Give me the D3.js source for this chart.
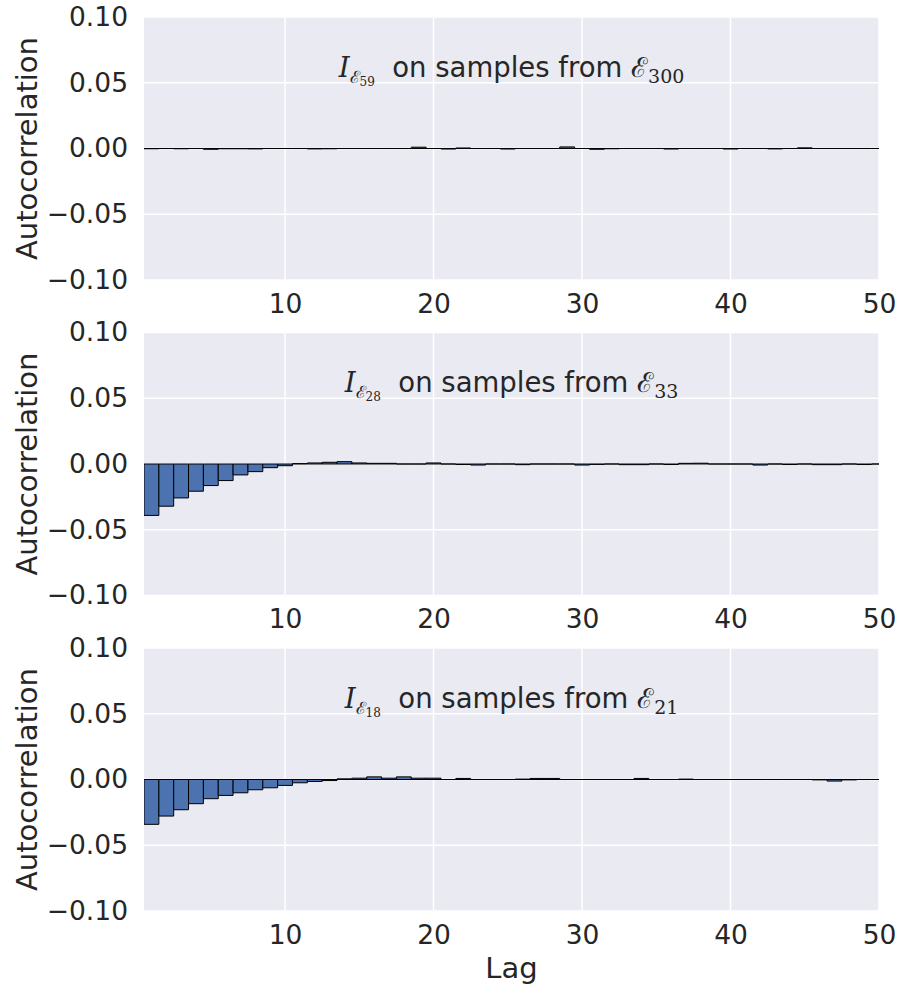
<!DOCTYPE html>
<html><head><meta charset="utf-8">
<script src="https://cdn.jsdelivr.net/npm/d3@7"></script>
<style>body{margin:0;background:#fff;} text{font-family:"DejaVu Sans",sans-serif;fill:#262626;}</style>
</head><body>
<svg id="c" width="901" height="990"></svg>
<script>
const lags = d3.range(1, 51);
const yTicks = [-0.10, -0.05, 0.00, 0.05, 0.10];
const xTicks = [10, 20, 30, 40, 50];
const titles = [
  {sub: "59", right: "300"},
  {sub: "28", right: "33"},
  {sub: "18", right: "21"}
];
// autocorrelation for lags 1..50, panel 1: I_E59 on samples from E300
const acf1 = [-0.0002,0,-0.0002,0,-0.0006,-0.0002,-0.0002,-0.0003,0,0,
  0,-0.0003,-0.0002,0,0,0,0,0,0.0010,0,
  -0.0004,0.0004,0,0,-0.0004,0,0,0,0.0012,0,
  -0.0006,-0.0002,0,0,0,-0.0004,0,0,0,-0.0004,
  0,0,-0.0003,0,0.0005,0,0,0,0,0];
// panel 2: I_E28 on samples from E33
const acf2 = [-0.0391,-0.0321,-0.0258,-0.0207,-0.0164,-0.0126,-0.0083,-0.0058,-0.0028,-0.0013,
  0.0003,0.0008,0.0013,0.0018,0.0008,0.0005,0.0005,0,0,0.0008,
  0,-0.0004,-0.0008,0,0,-0.0005,0,0,0,-0.0008,
  -0.0003,0,-0.0005,-0.0005,0,-0.0004,0.0005,0.0006,0,0,
  0,-0.0008,0,-0.0004,0,-0.0005,-0.0005,0,-0.0004,0];
// panel 3: I_E18 on samples from E21
const acf3 = [-0.0341,-0.0278,-0.0230,-0.0184,-0.0146,-0.0121,-0.0101,-0.0078,-0.0063,-0.0045,
  -0.0025,-0.0015,-0.0008,0.0005,0.0010,0.0020,0.0010,0.0020,0.0010,0.0010,
  0,0.0008,0,0,0,0.0003,0.0008,0.0008,0,0,
  0,0,0,0.0008,0,0,0.0003,0,0,0,
  0,0,0,0,0,-0.0003,-0.0012,-0.0003,0,0];
const series = [acf1, acf2, acf3];

const svg = d3.select("#c");
const left = 144, right = 879, h = 263;
const tops = [17, 332.5, 648];
const x = d3.scaleLinear().domain([0.5, 50]).range([left, right]);
const fmt = d3.format(".2f");
const tickFont = 26.5, labelFont = 29, titleFont = 27.5;

series.forEach((vals, i) => {
  const top = tops[i];
  const y = d3.scaleLinear().domain([-0.1, 0.1]).range([top + h, top]);
  const g = svg.append("g");
  g.append("rect").attr("x", left).attr("y", top).attr("width", right - left).attr("height", h).attr("fill", "#EAEAF2");
  // grid
  g.selectAll(".gy").data(yTicks).join("line")
    .attr("x1", left).attr("x2", right).attr("y1", d => y(d)).attr("y2", d => y(d))
    .attr("stroke", "#fff").attr("stroke-width", 1.5);
  g.selectAll(".gx").data(xTicks).join("line")
    .attr("y1", top).attr("y2", top + h).attr("x1", d => x(d)).attr("x2", d => x(d))
    .attr("stroke", "#fff").attr("stroke-width", 1.5);
  // clip
  const cid = "clip" + i;
  svg.append("clipPath").attr("id", cid).append("rect")
    .attr("x", left).attr("y", top).attr("width", right - left).attr("height", h);
  const bars = g.append("g").attr("clip-path", `url(#${cid})`);
  bars.selectAll("path").data(lags).join("path")
    .attr("d", (d, j) => {
      const x0 = x(d - 0.5), x1 = x(d + 0.5), y0 = y(0), y1 = y(vals[j]);
      return `M${x0},${y0}H${x1}V${y1}H${x0}Z`;
    })
    .attr("fill", "#4C72B0").attr("stroke", "#000").attr("stroke-width", 1);
  // y axis
  const ya = d3.axisLeft(y).tickValues(yTicks).tickFormat(fmt).tickSize(0).tickPadding(16);
  const yg = g.append("g").attr("transform", `translate(${left},0)`).call(ya);
  yg.select(".domain").remove();
  yg.selectAll("text").attr("font-size", tickFont).style("fill", "#262626");
  // x axis
  const xa = d3.axisBottom(x).tickValues(xTicks).tickFormat(d3.format("d")).tickSize(0).tickPadding(14);
  const xg = g.append("g").attr("transform", `translate(0,${top + h})`).call(xa);
  xg.select(".domain").remove();
  xg.selectAll("text").attr("font-size", tickFont).style("fill", "#262626");
  // y label
  g.append("text").attr("transform", `translate(37,${top + h / 2}) rotate(-90)`)
    .attr("text-anchor", "middle").attr("font-size", labelFont).text("Autocorrelation");
  // title
  const t = g.append("text").attr("x", (left + right) / 2).attr("y", top + h * 0.2 + 7)
    .attr("text-anchor", "middle").attr("font-size", titleFont);
  t.append("tspan").attr("font-family", "DejaVu Serif").attr("font-style", "italic").text("I");
  t.append("tspan").attr("font-family", "DejaVu Serif").attr("font-size", 17).attr("dy", 6).text("ℰ");
  t.append("tspan").attr("font-family", "DejaVu Serif").attr("font-size", 12).attr("dy", 3).text(titles[i].sub);
  t.append("tspan").attr("dy", -9).text("\u00a0 on samples from ");
  t.append("tspan").attr("font-family", "DejaVu Serif").text("ℰ");
  t.append("tspan").attr("font-family", "DejaVu Serif").attr("font-size", 19).attr("dy", 6).text(titles[i].right);
});
svg.append("text").attr("x", (left + right) / 2).attr("y", 978).attr("text-anchor", "middle")
  .attr("font-size", labelFont).text("Lag");
</script>
</body></html>
